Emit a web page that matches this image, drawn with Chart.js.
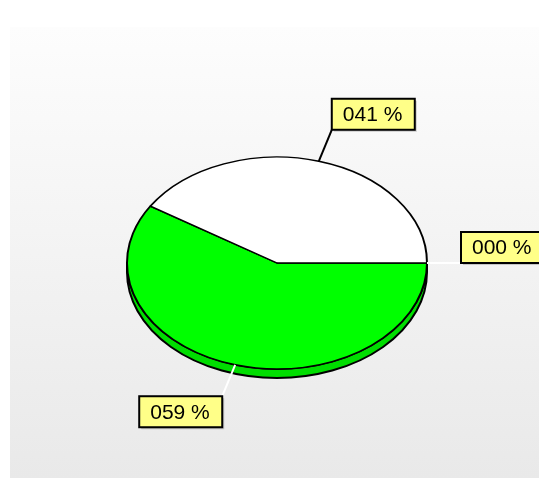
<!DOCTYPE html>
<html>
<head>
<meta charset="utf-8">
<script src="https://cdn.jsdelivr.net/npm/chart.js@4.4.1/dist/chart.umd.min.js"></script>
<style>
	html, body { margin: 0; padding: 0; background: #fff; }
	canvas { display: block; }
</style>
</head>
<body>
<canvas id="pieChart" width="539" height="479"></canvas>
<script>
const categories = ["Serie 1", "Serie 2", "Serie 3"];
const percentValues = [0, 59, 41];

const sliceColors = ["#ffffff", "#00ff00", "#ffffff"];
const sideColors = ["#dddddd", "#00dd00", "#dddddd"];
const leaderColors = ["#ffffff", "#ffffff", "#000000"];

const tilt = 106 / 150; // vertical squash of the pie
const depth = 9;
const leaderLength = 34;

function formatPercent(v) {
	return String(Math.round(v)).padStart(3, "0") + " %";
}

const backgroundPlugin = {
	id: "panelBackground",
	beforeDraw(chart) {
		const ctx = chart.ctx;
		ctx.save();
		ctx.fillStyle = "#ffffff";
		ctx.fillRect(0, 0, chart.width, chart.height);
		const g = ctx.createLinearGradient(0, 27, 0, 478);
		g.addColorStop(0, "#fdfdfd");
		g.addColorStop(1, "#e9e9e9");
		ctx.fillStyle = g;
		ctx.fillRect(10, 27, chart.width - 10, 451);
		ctx.restore();
	},
};

const pie3dPlugin = {
	id: "pie3d",
	beforeDatasetsDraw(chart) {
		const ctx = chart.ctx;
		const arcs = chart.getDatasetMeta(0).data;
		// side wall, only the front half (0..PI) can be seen
		arcs.forEach((arc, i) => {
			const a = Math.max(arc.startAngle, 0);
			const b = Math.min(arc.endAngle, Math.PI);
			if (b <= a) return;
			const rx = arc.outerRadius;
			const ry = rx * tilt;
			ctx.save();
			ctx.beginPath();
			ctx.ellipse(arc.x, arc.y, rx, ry, 0, a, b);
			ctx.ellipse(arc.x, arc.y + depth, rx, ry, 0, b, a, true);
			ctx.closePath();
			ctx.fillStyle = sideColors[i];
			ctx.fill();
			ctx.lineWidth = 2;
			ctx.lineJoin = "round";
			ctx.strokeStyle = "#000000";
			ctx.stroke();
			ctx.restore();
		});
		// squash the top face into an ellipse
		const c = arcs[0];
		ctx.save();
		ctx.translate(c.x, c.y);
		ctx.scale(1, tilt);
		ctx.translate(-c.x, -c.y);
	},
	afterDatasetsDraw(chart) {
		chart.ctx.restore();
	},
};

const labelPlugin = {
	id: "percentLabels",
	afterDraw(chart) {
		const ctx = chart.ctx;
		const arcs = chart.getDatasetMeta(0).data;
		ctx.save();
		ctx.font = "21px 'Liberation Sans', Arial, sans-serif";
		ctx.textBaseline = "middle";
		arcs.forEach((arc, i) => {
			const mid = (arc.startAngle + arc.endAngle) / 2;
			const rx = arc.outerRadius;
			const ry = rx * tilt;
			const px = arc.x + rx * Math.cos(mid);
			const py = arc.y + ry * Math.sin(mid);
			let dx = px - arc.x;
			let dy = py - arc.y;
			const len = Math.hypot(dx, dy) || 1;
			dx /= len;
			dy /= len;
			const ex = px + dx * leaderLength;
			const ey = py + dy * leaderLength;

			ctx.beginPath();
			ctx.moveTo(px, py);
			ctx.lineTo(ex, ey);
			ctx.lineWidth = 2;
			ctx.strokeStyle = leaderColors[i];
			ctx.stroke();

			const text = formatPercent(percentValues[i]);
			const w = Math.round(ctx.measureText(text).width) + 23;
			const h = 31;
			const bx = Math.cos(mid) >= 0 ? ex : ex - w;
			const by = Math.sin(mid) > 0.01 ? ey : ey - h;

			ctx.fillStyle = "rgba(0,0,0,0.18)";
			ctx.fillRect(bx + 2, by + 2, w, h);
			ctx.fillStyle = "#ffff88";
			ctx.fillRect(bx, by, w, h);
			ctx.lineWidth = 2;
			ctx.strokeStyle = "#000000";
			ctx.strokeRect(bx, by, w, h);
			ctx.fillStyle = "#000000";
			ctx.fillText(text, bx + 11, by + h / 2 + 1);
		});
		ctx.restore();
	},
};

const ctx = document.getElementById("pieChart").getContext("2d");
const myChart = new Chart(ctx, {
	type: "pie",
	data: {
		labels: categories,
		datasets: [
			{
				data: percentValues,
				backgroundColor: sliceColors,
				borderColor: "#000000",
				borderWidth: 2,
				clip: false,
			},
		],
	},
	options: {
		responsive: false,
		animation: false,
		events: [],
		rotation: 90,
		layout: {
			padding: { left: 126, right: 111, top: 112, bottom: 65 },
		},
		plugins: {
			legend: { display: false },
			tooltip: { enabled: false },
		},
	},
	plugins: [backgroundPlugin, pie3dPlugin, labelPlugin],
});
</script>
</body>
</html>
